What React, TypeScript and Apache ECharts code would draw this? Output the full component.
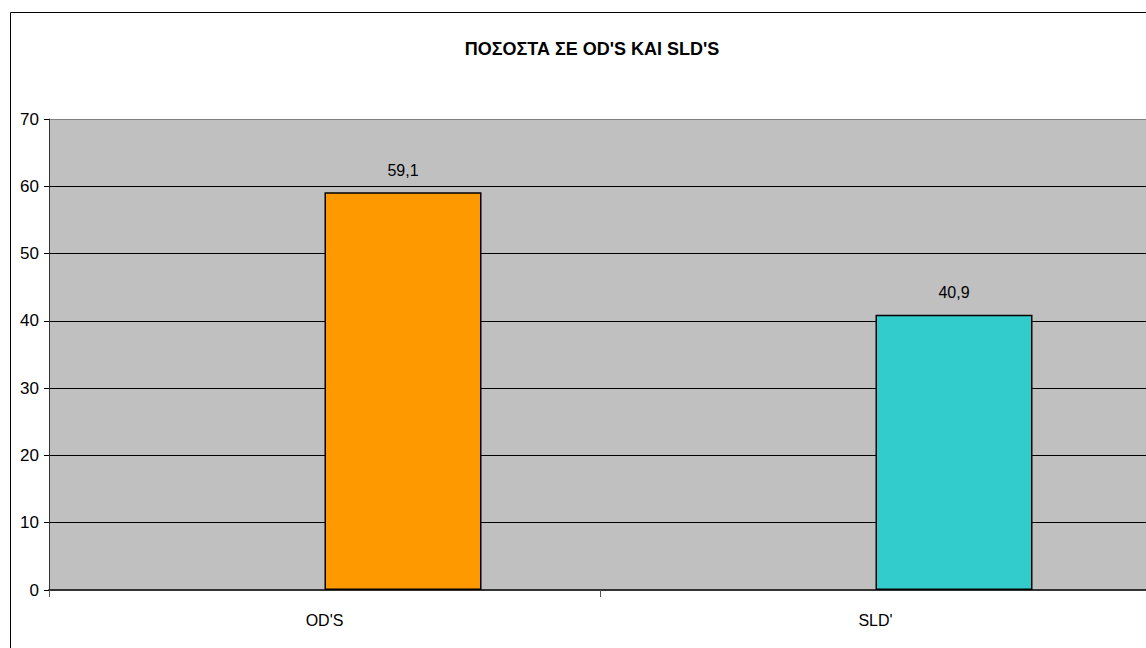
import React, { useEffect, useRef } from "react";
import * as echarts from "echarts";

const categories = ["OD'S", "SLD'"];
const values = [59.1, 40.9];
const barColors = ["#FF9900", "#33CCCC"];
const yTicks = [0, 10, 20, 30, 40, 50, 60, 70];
const titleText = "ΠΟΣΟΣΤΑ ΣΕ OD'S KAI SLD'S";

const FONT = "'Liberation Sans', Arial, sans-serif";

export default function App() {
  const ref = useRef<HTMLDivElement>(null);
  useEffect(() => {
    document.body.style.margin = "0";
    const chart = echarts.init(ref.current!, undefined, { renderer: "svg" });
    const splitColors = yTicks.map((t, i) => (i === yTicks.length - 1 ? "#808080" : "#000000"));
    chart.setOption({
      animation: false,
      title: {
        text: titleText,
        left: 587,
        top: 35,
        textAlign: "center",
        textStyle: { fontFamily: FONT, fontWeight: "bold", fontSize: 18, color: "#000" },
      },
      graphic: [
        {
          type: "rect",
          shape: { x: 10.5, y: 12.5, width: 1300, height: 800 },
          style: { fill: "none", stroke: "#000", lineWidth: 1 },
          silent: true,
          z: 100,
        },
      ],
      grid: {
        left: 49,
        top: 119,
        width: 1102,
        height: 471,
        show: true,
        backgroundColor: "#C0C0C0",
        borderWidth: 0,
        containLabel: false,
        outerBoundsMode: "none",
      },
      xAxis: {
        type: "category",
        data: categories,
        boundaryGap: true,
        axisLine: { show: true, lineStyle: { color: "#333", width: 2 } },
        axisTick: { show: true, alignWithLabel: false, length: 7, lineStyle: { color: "#555", width: 1 } },
        axisLabel: { fontFamily: FONT, fontSize: 16, color: "#000", margin: 22 },
      },
      yAxis: {
        type: "value",
        min: 0,
        max: 70,
        interval: 10,
        axisLine: { show: true, lineStyle: { color: "#333", width: 1 } },
        axisTick: { show: true, length: 5, lineStyle: { color: "#000" } },
        axisLabel: { fontFamily: FONT, fontSize: 17, color: "#000", margin: 10 },
        splitLine: { show: true, lineStyle: { color: splitColors, width: 1 } },
      },
      series: [
        {
          type: "bar",
          data: categories.map(() => null),
          barGap: "0%",
          barWidth: 157,
        },
        {
          type: "bar",
          barGap: "0%",
          barWidth: 157,
          data: values.map((v, i) => ({
            value: v,
            itemStyle: { color: barColors[i], borderColor: "#000", borderWidth: 1.5 },
          })),
          label: {
            show: true,
            position: "top",
            distance: 14,
            fontFamily: FONT,
            fontSize: 16,
            color: "#000",
            formatter: (p: any) => String(p.value).replace(".", ","),
          },
        },
      ],
    });
    return () => chart.dispose();
  }, []);
  return <div ref={ref} style={{ position: "absolute", left: 0, top: 0, width: 1146, height: 648 }} />;
}
